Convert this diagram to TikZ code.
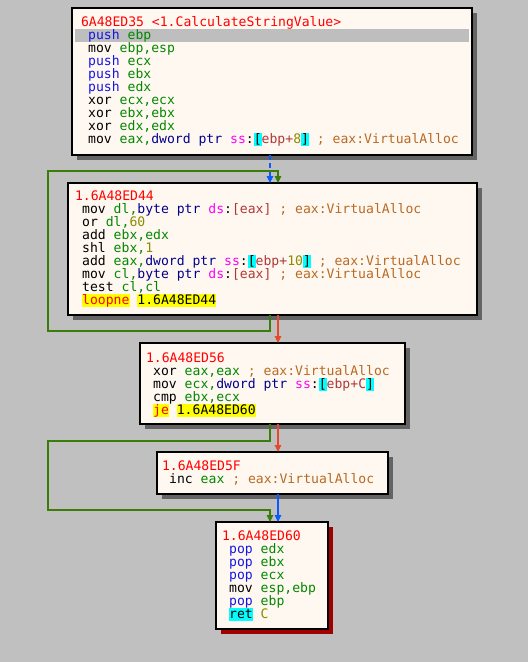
\documentclass[tikz,border=0pt]{standalone}
\usepackage{fontspec}
\newfontfamily\dasm{DejaVu Sans Mono}
\usetikzlibrary{arrows.meta,shadows}
\definecolor{bg}{RGB}{192,192,192}
\definecolor{boxfill}{RGB}{255,248,240}
\definecolor{shgray}{RGB}{100,100,100}
\definecolor{shred}{RGB}{160,0,0}
\definecolor{band}{RGB}{190,190,190}
\definecolor{cR}{RGB}{255,0,0}
\definecolor{cB}{RGB}{20,20,230}
\definecolor{cG}{RGB}{0,135,0}
\definecolor{cN}{RGB}{0,0,140}
\definecolor{cM}{RGB}{255,0,255}
\definecolor{cW}{RGB}{175,55,55}
\definecolor{cO}{RGB}{140,140,0}
\definecolor{cC}{RGB}{185,105,35}
\definecolor{hly}{RGB}{255,255,0}
\definecolor{hlc}{RGB}{0,255,255}
\definecolor{lgreen}{RGB}{60,125,10}
\definecolor{lred}{RGB}{232,72,42}
\definecolor{lblue}{RGB}{10,90,255}
\newcommand\kR[1]{\textcolor{cR}{#1}}
\newcommand\kB[1]{\textcolor{cB}{#1}}
\newcommand\kG[1]{\textcolor{cG}{#1}}
\newcommand\kN[1]{\textcolor{cN}{#1}}
\newcommand\kM[1]{\textcolor{cM}{#1}}
\newcommand\kW[1]{\textcolor{cW}{#1}}
\newcommand\kO[1]{\textcolor{cO}{#1}}
\newcommand\kC[1]{\textcolor{cC}{#1}}
\newcommand\hlY[1]{{\setlength\fboxsep{0pt}\colorbox{hly}{\vrule height 9.7pt depth 2.8pt width 0pt #1}}}
\newcommand\hlC[1]{{\setlength\fboxsep{0pt}\colorbox{hlc}{\vrule height 9.7pt depth 2.8pt width 0pt #1}}}
\newcommand\codeblock[4]{%
  \foreach \codeln [count=\i from 0] in {#4}{%
    \ifnum\i=0
      \node[code] (#1t) at ({#2},{#3}) {\codeln};
    \else
      \node[code] (#1l\i) at ({#2+7.2},{#3+13*\i}) {\codeln};
    \fi
  }}
\tikzset{
  code/.style={anchor=base west, inner sep=0pt, outer sep=0pt, font=\dasm\fontsize{13.1}{13}\selectfont},
  blk/.style={draw=black, line width=1.6pt, fill=boxfill, anchor=north west, inner sep=0pt, outer sep=0pt,
    drop shadow={shadow xshift=5pt, shadow yshift=-5pt, fill=shgray, opacity=1, draw=none}},
  blkred/.style={draw=black, line width=1.6pt, fill=boxfill, anchor=north west, inner sep=0pt, outer sep=0pt,
    drop shadow={shadow xshift=5pt, shadow yshift=-5pt, fill=shred, opacity=1, draw=none}},
  conn/.style={line width=1.4pt, -{Triangle[width=6.5pt,length=7pt]}},
}
\begin{document}
\begin{tikzpicture}[x=1pt,y=-1pt]
\path[use as bounding box, fill=bg] (0,0) rectangle (528,662);
% boxes
\node[blk, minimum width=400pt, minimum height=147pt] (b1) at (72,8) {};
\node[blk, minimum width=409pt, minimum height=132pt] (b2) at (68,183) {};
\node[blk, minimum width=265pt, minimum height=81pt] (b3) at (140,343) {};
\node[blk, minimum width=231pt, minimum height=42pt] (b4) at (157,452) {};
\node[blkred, minimum width=112pt, minimum height=107pt] (b5) at (216,522) {};
% selected line band
\node[fill=band, anchor=north west, inner sep=0pt, minimum width=394pt, minimum height=12.7pt] (sel) at (75,29) {};
% code
\codeblock{b1}{81}{26}{%
  {\kR{6A48ED35 <1.CalculateStringValue>}},
  {\kB{push} \kG{ebp}},
  {mov \kG{ebp,esp}},
  {\kB{push} \kG{ecx}},
  {\kB{push} \kG{ebx}},
  {\kB{push} \kG{edx}},
  {xor \kG{ecx,ecx}},
  {xor \kG{ebx,ebx}},
  {xor \kG{edx,edx}},
  {mov \kG{eax,}\kN{dword ptr} \kM{ss}:\hlC{[}\kW{ebp+}\kO{8}\hlC{]} \kC{; eax:VirtualAlloc}}}
\codeblock{b2}{75}{200}{%
  {\kR{1.6A48ED44}},
  {mov \kG{dl,}\kN{byte ptr} \kM{ds}:\kW{[eax]} \kC{; eax:VirtualAlloc}},
  {or \kG{dl,}\kO{60}},
  {add \kG{ebx,edx}},
  {shl \kG{ebx,}\kO{1}},
  {add \kG{eax,}\kN{dword ptr} \kM{ss}:\hlC{[}\kW{ebp+}\kO{10}\hlC{]} \kC{; eax:VirtualAlloc}},
  {mov \kG{cl,}\kN{byte ptr} \kM{ds}:\kW{[eax]} \kC{; eax:VirtualAlloc}},
  {test \kG{cl,cl}},
  {\hlY{\kR{loopne}} \hlY{1.6A48ED44}}}
\codeblock{b3}{146}{362}{%
  {\kR{1.6A48ED56}},
  {xor \kG{eax,eax} \kC{; eax:VirtualAlloc}},
  {mov \kG{ecx,}\kN{dword ptr} \kM{ss}:\hlC{[}\kW{ebp+C}\hlC{]}},
  {cmp \kG{ebx,ecx}},
  {\hlY{\kR{je}} \hlY{1.6A48ED60}}}
\codeblock{b4}{162}{470}{%
  {\kR{1.6A48ED5F}},
  {inc \kG{eax} \kC{; eax:VirtualAlloc}}}
\codeblock{b5}{222}{540}{%
  {\kR{1.6A48ED60}},
  {\kB{pop} \kG{edx}},
  {\kB{pop} \kG{ebx}},
  {\kB{pop} \kG{ecx}},
  {mov \kG{esp,ebp}},
  {\kB{pop} \kG{ebp}},
  {\hlC{ret} \kO{C}}}
% connector helpers
\coordinate (xa) at (270,0);
\coordinate (xb) at (278,0);
\coordinate (l1a) at (48,331);
\coordinate (l1b) at (48,171);
\coordinate (l2a) at (48,441);
\coordinate (l2b) at (48,510);
% connectors
\draw[conn, lblue, dash pattern=on 5pt off 3pt] (b1.south -| xa) -- (b2.north -| xa);
\draw[conn, lgreen] (b2.south -| xa) |- (l1a) -- (l1b) -| (b2.north -| xb);
\draw[conn, lred] (b2.south -| xb) -- (b3.north -| xb);
\draw[conn, lred] (b3.south -| xb) -- (b4.north -| xb);
\draw[conn, lgreen] (b3.south -| xa) |- (l2a) -- (l2b) -| (b5.north -| xa);
\draw[conn, lblue] (b4.south -| xb) -- (b5.north -| xb);
\end{tikzpicture}
\end{document}
